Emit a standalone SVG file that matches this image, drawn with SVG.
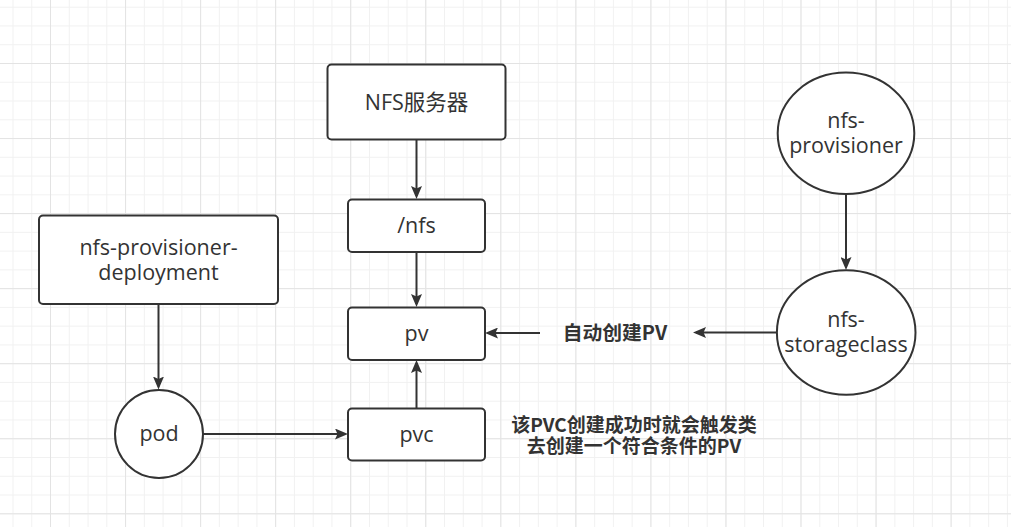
<svg xmlns="http://www.w3.org/2000/svg" width="1011" height="527" viewBox="0 0 1011 527">
<style>
.box{fill:#fff;stroke:#333;stroke-width:2}
.edge{fill:none;stroke:#333;stroke-width:2}
.t{font-family:"Open Sans","Noto Sans CJK SC",sans-serif;font-size:21.5px;fill:#333;text-anchor:middle}
.lbl{font-family:"Noto Sans CJK SC","Noto Sans",sans-serif;font-size:19px;font-weight:bold;fill:#333;text-anchor:middle}
</style>
<defs>
<pattern id="minor" patternUnits="userSpaceOnUse" x="12.5" y="6.7" width="18.7625" height="18.7625">
<rect x="0" y="0" width="1" height="18.7625" fill="#f1f1f1"/>
<rect x="0" y="0" width="18.7625" height="1" fill="#f1f1f1"/>
</pattern>
<pattern id="major" patternUnits="userSpaceOnUse" x="50" y="63" width="75.05" height="75.05">
<rect x="0" y="0" width="1" height="75.05" fill="#e3e3e3"/>
<rect x="0" y="0" width="75.05" height="1" fill="#e3e3e3"/>
</pattern>
<marker id="arr" markerUnits="userSpaceOnUse" viewBox="0 0 13 11" markerWidth="13" markerHeight="11" refX="10" refY="5.5" orient="auto">
<path d="M0,0 L13,5.5 L0,11 L2.5,5.5 Z" fill="#333"/>
</marker>
</defs>
<rect width="1011" height="527" fill="#fff"/>
<rect width="1011" height="527" fill="url(#minor)"/>
<rect width="1011" height="527" fill="url(#major)"/>

<g id="connectors">
<path class="edge" d="M416.5,140 L416.5,196" marker-end="url(#arr)"/>
<path class="edge" d="M416.5,252 L416.5,304" marker-end="url(#arr)"/>
<path class="edge" d="M416.5,408 L416.5,363" marker-end="url(#arr)"/>
<path class="edge" d="M158.5,304 L158.5,386.5" marker-end="url(#arr)"/>
<path class="edge" d="M203,434 L345,434" marker-end="url(#arr)"/>
<path class="edge" d="M846,194 L846,267" marker-end="url(#arr)"/>
<path class="edge" d="M777,332.5 L696,332.5" marker-end="url(#arr)"/>
<path class="edge" d="M540,333 L488,333" marker-end="url(#arr)"/>
</g>

<g id="nfs-server">
<rect class="box" x="327.5" y="64.5" width="178" height="75" rx="4"/>
<text class="t" x="416.5" y="109.5">NFS服务器</text>
</g>
<g id="nfs-dir">
<rect class="box" x="348" y="199.5" width="137" height="52.5" rx="4"/>
<text class="t" x="416.5" y="233">/nfs</text>
</g>
<g id="pv">
<rect class="box" x="348" y="307.5" width="137" height="52.5" rx="4"/>
<text class="t" x="416.5" y="341">pv</text>
</g>
<g id="pvc">
<rect class="box" x="348" y="408.5" width="137" height="52" rx="4"/>
<text class="t" x="416.5" y="441.5">pvc</text>
</g>
<g id="deployment">
<rect class="box" x="39" y="215.5" width="239" height="88.5" rx="4"/>
<text class="t" x="158.5" y="254.5">nfs-provisioner-</text>
<text class="t" x="158.5" y="279.5">deployment</text>
</g>
<g id="pod">
<circle class="box" cx="159" cy="434" r="44"/>
<text class="t" x="159" y="441">pod</text>
</g>
<g id="provisioner">
<ellipse class="box" cx="846" cy="133.3" rx="68.3" ry="60.7"/>
<text class="t" x="846" y="128">nfs-</text>
<text class="t" x="846" y="153">provisioner</text>
</g>
<g id="storageclass">
<ellipse class="box" cx="846.2" cy="332.5" rx="69.3" ry="62.3"/>
<text class="t" x="846" y="327">nfs-</text>
<text class="t" x="846" y="352">storageclass</text>
</g>
<g id="label-auto">
<text class="lbl" x="615" y="339.5" style="font-size:19.8px">自动创建PV</text>
</g>
<g id="label-pvc">
<text class="lbl" x="634" y="431.5">该PVC创建成功时就会触发类</text>
<text class="lbl" x="634" y="453">去创建一个符合条件的PV</text>
</g>
</svg>
